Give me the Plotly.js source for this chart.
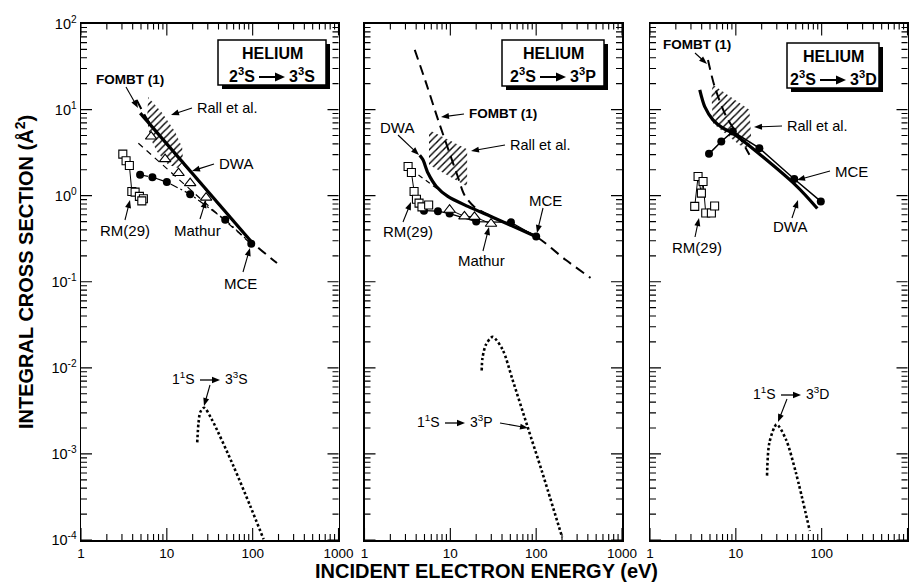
<!DOCTYPE html>
<html>
<head>
<meta charset="utf-8">
<script src="https://cdn.plot.ly/plotly-3.0.1.min.js"></script>
<style>
  html, body { margin: 0; padding: 0; background: #fff; }
  #chart { width: 918px; height: 587px; }
</style>
</head>
<body>
<div id="chart"></div>
<script>
// ===== Helium 2³S → 3³S =====
const sFombtE = [4.45, 6, 10, 20, 50, 100, 192];
const sFombtQ = [12.9, 7.5, 3.95, 1.77, 0.62, 0.285, 0.165];
const sDwaE = [4.9, 100];
const sDwaQ = [9.1, 0.28];
const sFitE = [4.66, 98];
const sFitQ = [4.07, 0.27];
const sMceE = [4.88, 6.79, 10, 18.7, 47.9, 96.3];
const sMceQ = [1.75, 1.64, 1.44, 1.04, 0.525, 0.277];
const sMathurE = [6.56, 9.55, 13.7, 18.7, 28.7];
const sMathurQ = [4.86, 2.66, 1.83, 1.4, 0.95];
const sRmE = [3.07, 3.35, 3.66, 3.91, 4.27, 4.79, 5.33, 5.11];
const sRmQ = [3.04, 2.54, 2.24, 1.12, 1.1, 0.98, 0.92, 0.87];
const sRallE = [6.05, 8.81, 12.5, 15.1, 15.5, 13.5, 10.4, 7.7, 6.38, 5.89, 6.05];
const sRallQ = [14.0, 9.16, 5.51, 3.6, 2.47, 2.1, 2.28, 3.23, 4.7, 7.6, 14.0];
const sSingletE = [22.6, 23.4, 24.5, 27.2, 33.5, 59.8, 93.7, 134];
const sSingletQ = [1.36e-3, 2.3e-3, 3.05e-3, 3.44e-3, 2.5e-3, 7.2e-4, 2.48e-4, 1.02e-4];

// ===== Helium 2³S → 3³P =====
const pFombtE = [3.85, 5.25, 7.2, 9.8, 12.2, 14.6, 19.1, 32.5, 50, 100, 220, 430];
const pFombtQ = [49.3, 20, 7.6, 3.12, 1.67, 1.02, 0.74, 0.55, 0.454, 0.335, 0.18, 0.111];
const pDwaE = [4.4, 4.8, 5.49, 6.87, 9.35, 16, 32.5, 99];
const pDwaQ = [2.95, 2.61, 1.83, 1.28, 0.98, 0.75, 0.55, 0.336];
const pFitE = [3.5, 8.5];
const pFitQ = [2.0, 1.05];
const pMceE = [4.93, 7.17, 9.8, 20, 50.8, 100];
const pMceQ = [0.67, 0.66, 0.62, 0.50, 0.49, 0.335];
const pMathurE = [9.8, 14.6, 19.1, 29.8];
const pMathurQ = [0.686, 0.574, 0.567, 0.472];
const pRmE = [3.22, 3.52, 3.78, 4.03, 4.32, 4.67, 5.59];
const pRmQ = [2.18, 1.86, 1.12, 0.91, 0.82, 0.74, 0.78];
const pRallE = [5.64, 15.7, 15.7, 5.64, 5.64];
const pRallQ = [5.8, 3.47, 1.28, 2.28, 5.8];
const pSingletE = [23.2, 23.7, 26, 31.1, 40.6, 53, 79, 118, 201];
const pSingletQ = [9.3e-3, 0.013, 0.0186, 0.0229, 0.0163, 7.3e-3, 2.1e-3, 6.05e-4, 1.07e-4];

// ===== Helium 2³S → 3³D =====
const dFombtE = [4.74, 5.66, 7.74, 11.5, 14.4];
const dFombtQ = [37.7, 18.5, 8.3, 4.45, 2.98];
const dDwaE = [3.8, 4.34, 5.41, 7.07, 9.2, 50, 89];
const dDwaQ = [16.9, 10.8, 7.6, 6.08, 5.32, 1.32, 0.71];
const dMceE = [4.87, 6.77, 9.23, 18.8, 47.9, 97.7];
const dMceQ = [3.06, 4.26, 5.56, 3.56, 1.56, 0.857];
const dRmE = [3.32, 3.63, 3.97, 4.15, 4.46, 5.19, 5.66];
const dRmQ = [0.75, 1.67, 1.07, 1.46, 0.63, 0.63, 0.76];
const dRallE = [5.41, 14.4, 15.1, 13.8, 11.0, 5.41, 5.19, 5.41];
const dRallQ = [19.4, 9.93, 4.66, 3.57, 3.89, 6.95, 15.5, 19.4];
const dSingletE = [23.1, 24.6, 29.9, 38.4, 50.1, 72.8];
const dSingletQ = [5.6e-4, 1.35e-3, 2.2e-3, 1.47e-3, 6.05e-4, 1.27e-4];

// Axis tick labels
const xTickVals = [1, 10, 100, 1000];
const xTickText = ['1', '10', '100', '1000'];
const yTickVals = [1e-4, 1e-3, 1e-2, 1e-1, 1, 10, 100];
const yTickText = ['10<sup>-4</sup>', '10<sup>-3</sup>', '10<sup>-2</sup>', '10<sup>-1</sup>',
                   '10<sup>0</sup>', '10<sup>1</sup>', '10<sup>2</sup>'];

// ---------- page geometry ----------
const W = 918, H = 587;
const FONT = 'Liberation Sans, Arial, Helvetica, sans-serif';
const panels = [{x0: 81, x1: 338.5}, {x0: 364.5, x1: 622}, {x0: 650, x1: 907.5}];
const plotTop = 23.5, plotBottom = 540;
const X_DECADES = [0, 3], Y_DECADES = [-4, 2];
const fx = px => px / W;
const fy = py => 1 - py / H;

function axisBase(isX) {
  return {
    type: 'log',
    range: isX ? X_DECADES : Y_DECADES,
    showline: true, linecolor: 'black', linewidth: 1.5, mirror: true,
    ticks: '', showgrid: false, zeroline: false, fixedrange: true,
    tickmode: 'array',
    tickfont: {family: FONT, size: isX ? 13.5 : 14.5, color: 'black'}
  };
}

const layout = {
  width: W, height: H,
  margin: {l: 0, r: 0, t: 0, b: 0},
  paper_bgcolor: 'white', plot_bgcolor: 'white',
  showlegend: false,
  font: {family: FONT, color: 'black'},
  shapes: [], annotations: []
};
const S = layout.shapes, A = layout.annotations;

// Inward tick marks on all four sides of a panel, drawn as one path
function panelTicks(p) {
  const segs = [];
  const xPix = k => p.x0 + (k - X_DECADES[0]) / (X_DECADES[1] - X_DECADES[0]) * (p.x1 - p.x0);
  const yPix = k => plotBottom - (k - Y_DECADES[0]) / (Y_DECADES[1] - Y_DECADES[0]) * (plotBottom - plotTop);
  const seg = (ax0, ay0, ax1, ay1) => segs.push('M' + fx(ax0) + ',' + fy(ay0) + 'L' + fx(ax1) + ',' + fy(ay1));
  for (let k = X_DECADES[0]; k <= X_DECADES[1]; k++) {
    for (let d = 1; d <= 9; d++) {
      const lg = k + Math.log10(d);
      if (lg > X_DECADES[1] + 1e-9) break;
      const len = d === 1 ? 12 : 6, x = xPix(lg);
      seg(x, plotBottom, x, plotBottom - len);
      seg(x, plotTop, x, plotTop + len);
    }
  }
  for (let k = Y_DECADES[0]; k <= Y_DECADES[1]; k++) {
    for (let d = 1; d <= 9; d++) {
      const lg = k + Math.log10(d);
      if (lg > Y_DECADES[1] + 1e-9) break;
      const len = d === 1 ? 11 : 6, y = yPix(lg);
      seg(p.x0, y, p.x0 + len, y);
      seg(p.x1, y, p.x1 - len, y);
    }
  }
  S.push({type: 'path', xref: 'paper', yref: 'paper', layer: 'above', path: segs.join(' '),
          line: {color: 'black', width: 1.1}});
}

panels.forEach((p, i) => {
  const sfx = i === 0 ? '' : String(i + 1);
  layout['xaxis' + sfx] = Object.assign(axisBase(true), {
    domain: [fx(p.x0), fx(p.x1)], anchor: 'y' + sfx,
    tickvals: xTickVals, ticktext: xTickText, showticklabels: true});
  layout['yaxis' + sfx] = Object.assign(axisBase(false), {
    domain: [fy(plotBottom), fy(plotTop)], anchor: 'x' + sfx,
    tickvals: yTickVals, ticktext: yTickText, showticklabels: i === 0});
  panelTicks(p);
});

// ---------- traces ----------
const traces = [];
function ax(i) { return i === 0 ? {xaxis: 'x', yaxis: 'y'} : {xaxis: 'x' + (i + 1), yaxis: 'y' + (i + 1)}; }

function hatch(i, x, y) {
  traces.push(Object.assign({
    x, y, type: 'scatter', mode: 'none', fill: 'toself', fillcolor: 'white',
    fillpattern: {shape: '/', fgcolor: 'black', bgcolor: 'white', size: 5, solidity: 0.28},
    hoverinfo: 'skip'
  }, ax(i)));
}
function line(i, x, y, opts) {
  traces.push(Object.assign({
    x, y, type: 'scatter', mode: 'lines',
    line: Object.assign({color: 'black', width: 1.5, shape: 'spline', smoothing: 0.8}, opts),
    hoverinfo: 'skip'
  }, ax(i)));
}
function marks(i, x, y, marker, lineOpts) {
  traces.push(Object.assign({
    x, y, type: 'scatter', mode: lineOpts ? 'lines+markers' : 'markers',
    line: Object.assign({color: 'black', width: 1}, lineOpts || {}),
    marker: marker, hoverinfo: 'skip', cliponaxis: false
  }, ax(i)));
}

const dotted = {width: 2.6, dash: '2.6px,2.4px'};
const fombt = {width: 2, dash: '10px,6px'};
const dwa = {width: 3.2};
const circle = {symbol: 'circle', size: 8, color: 'black'};
const tri = {symbol: 'triangle-up', size: 10, color: 'white', line: {color: 'black', width: 1.1}};
const sq = {symbol: 'square', size: 8, color: 'white', line: {color: 'black', width: 1.1}};

// panel 1
hatch(0, sRallE, sRallQ);
line(0, sSingletE, sSingletQ, dotted);
line(0, sFitE, sFitQ, {width: 1.2, dash: '6px,5px'});
line(0, sFombtE, sFombtQ, fombt);
line(0, sDwaE, sDwaQ, dwa);
marks(0, sMceE, sMceQ, circle, {width: 1.2, dash: '8px,3px,2px,3px'});
marks(0, sMathurE, sMathurQ, tri);
marks(0, sRmE, sRmQ, sq, {width: 1});

// panel 2
hatch(1, pRallE, pRallQ);
line(1, pSingletE, pSingletQ, dotted);
line(1, pFitE, pFitQ, {width: 1.2, dash: '5px,4px'});
line(1, pFombtE, pFombtQ, fombt);
line(1, pDwaE, pDwaQ, dwa);
marks(1, pMceE, pMceQ, circle, {width: 1.3});
marks(1, pMathurE, pMathurQ, tri, {width: 1});
marks(1, pRmE, pRmQ, sq, {width: 1});

// panel 3
hatch(2, dRallE, dRallQ);
line(2, dSingletE, dSingletQ, dotted);
line(2, dFombtE, dFombtQ, fombt);
line(2, dDwaE, dDwaQ, dwa);
marks(2, dMceE, dMceQ, circle, {width: 1.5});
marks(2, dRmE, dRmQ, sq, {width: 1});

// ---------- text and arrows ----------
function txt(t, px, py, size, bold, anchor) {
  return {xref: 'paper', yref: 'paper', x: fx(px), y: fy(py),
          text: bold ? '<b>' + t + '</b>' : t, showarrow: false,
          xanchor: anchor || 'center', yanchor: 'middle',
          font: {family: FONT, size: size, color: 'black'}};
}
// pointer arrow: a stem and a filled triangular head, in page pixels
function arrow(tailX, tailY, tipX, tipY, w, hl, hw) {
  w = w || 1.1; hl = hl || 8; hw = hw || 3;
  const dx = tipX - tailX, dy = tipY - tailY, L = Math.hypot(dx, dy);
  const ux = dx / L, uy = dy / L;
  const bx = tipX - ux * hl, by = tipY - uy * hl;
  const nx = -uy * hw, ny = ux * hw;
  S.push({type: 'line', xref: 'paper', yref: 'paper', layer: 'above',
          x0: fx(tailX), y0: fy(tailY), x1: fx(bx + ux), y1: fy(by + uy),
          line: {color: 'black', width: w}});
  S.push({type: 'path', xref: 'paper', yref: 'paper', layer: 'above',
          path: 'M' + fx(tipX) + ',' + fy(tipY) + ' L' + fx(bx + nx) + ',' + fy(by + ny) +
                ' L' + fx(bx - nx) + ',' + fy(by - ny) + ' Z',
          fillcolor: 'black', line: {width: 0}});
}

// title boxes with drop shadow
function box(x0, y0, x1, y1, target) {
  S.push({type: 'rect', xref: 'paper', yref: 'paper', x0: fx(x0 + 4), x1: fx(x1 + 4),
          y0: fy(y1 + 4), y1: fy(y0 + 4), fillcolor: 'black', line: {width: 0}, layer: 'above'});
  S.push({type: 'rect', xref: 'paper', yref: 'paper', x0: fx(x0), x1: fx(x1),
          y0: fy(y1), y1: fy(y0), fillcolor: 'white', line: {color: 'black', width: 1.5}, layer: 'above'});
  const cx = (x0 + x1) / 2;
  A.push(txt('HELIUM', cx, y0 + 14, 16, true));
  A.push(txt('2<sup>3</sup>S', cx - 15, y0 + 35, 16, true, 'right'));
  arrow(cx - 13, y0 + 37, cx + 13, y0 + 37, 2, 10, 4.5);
  A.push(txt(target, cx + 15, y0 + 35, 16, true, 'left'));
}
box(218, 40, 326, 85, '3<sup>3</sup>S');
box(502, 40, 604, 86, '3<sup>3</sup>P');
box(787, 43, 879, 88, '3<sup>3</sup>D');

// singlet excitation labels
function singlet(right, y, target, tailX, tailY, tipX, tipY) {
  A.push(txt('1<sup>1</sup>S', right, y, 14, false, 'right'));
  arrow(right + 3, y + 2, right + 23, y + 2, 1.3, 8, 3.2);
  A.push(txt(target, right + 26, y, 14, false, 'left'));
  arrow(tailX, tailY, tipX, tipY);
}
singlet(197, 378, '3<sup>3</sup>S', 210, 385, 204, 406);
singlet(442, 421, '3<sup>3</sup>P', 500, 423, 528, 428);
singlet(778, 393, '3<sup>3</sup>D', 787, 399, 778, 422);

// panel 1 labels
A.push(txt('FOMBT (1)', 130, 79, 13.5, true)); arrow(126, 87, 138, 108);
A.push(txt('Rall et al.', 195, 108, 14.5, false, 'left')); arrow(192, 108, 171, 115);
A.push(txt('DWA', 217, 163, 15, false, 'left')); arrow(214, 164, 192, 171);
A.push(txt('RM(29)', 125, 230, 15)); arrow(125, 220, 130, 200);
A.push(txt('Mathur', 197, 230, 15)); arrow(200, 219, 206, 200);
A.push(txt('MCE', 241, 283, 15)); arrow(243, 272, 250, 248);

// panel 2 labels
A.push(txt('FOMBT (1)', 467, 113, 13.5, true, 'left')); arrow(464, 114, 441, 117);
A.push(txt('DWA', 397, 127, 15)); arrow(398, 135, 419, 155);
A.push(txt('Rall et al.', 508, 145, 14.5, false, 'left')); arrow(505, 145, 471, 151);
A.push(txt('MCE', 545, 200, 15)); arrow(543, 208, 537, 233);
A.push(txt('RM(29)', 408, 232, 15)); arrow(403, 222, 411, 202);
A.push(txt('Mathur', 482, 260, 15)); arrow(483, 251, 489, 227);

// panel 3 labels
A.push(txt('FOMBT (1)', 697, 45, 13.5, true)); arrow(695, 53, 707, 64);
A.push(txt('Rall et al.', 785, 126, 14.5, false, 'left')); arrow(782, 126, 754, 127);
A.push(txt('MCE', 833, 171, 15, false, 'left')); arrow(830, 171, 797, 180);
A.push(txt('DWA', 790, 227, 15)); arrow(792, 218, 798, 200);
A.push(txt('RM(29)', 697, 247, 15)); arrow(695, 237, 699, 218);

// axis titles shared by the three panels
A.push(Object.assign(txt('INTEGRAL CROSS SECTION (Å<sup>2</sup>)', 24, 272, 20, true), {textangle: -90}));
A.push(txt('INCIDENT ELECTRON ENERGY (eV)', 487, 571, 20, true));

Plotly.newPlot('chart', traces, layout, {displayModeBar: false, staticPlot: true});
</script>
</body>
</html>
